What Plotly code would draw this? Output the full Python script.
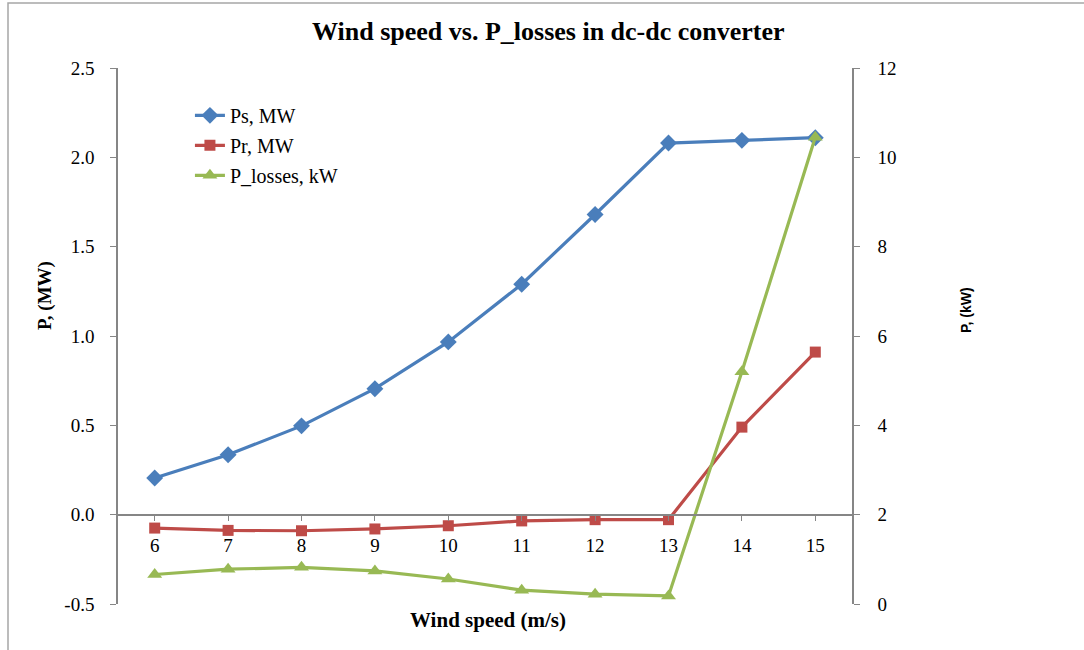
import plotly.graph_objects as go

wind_speed = [6, 7, 8, 9, 10, 11, 12, 13, 14, 15]
ps_mw = [0.205, 0.335, 0.497, 0.705, 0.967, 1.29, 1.68, 2.08, 2.095, 2.11]
pr_mw = [-0.075, -0.088, -0.09, -0.08, -0.062, -0.035, -0.028, -0.028, 0.49, 0.91]
p_losses_kw = [0.66, 0.78, 0.82, 0.74, 0.56, 0.31, 0.22, 0.18, 5.2, 10.45]

left_ticks = [-0.5, 0.0, 0.5, 1.0, 1.5, 2.0, 2.5]
left_tick_text = ["-0.5", "0.0", "0.5", "1.0", "1.5", "2.0", "2.5"]
right_ticks = [0, 2, 4, 6, 8, 10, 12]

SERIF = "Liberation Serif, Times New Roman, serif"
AXIS_COL = "#868686"

fig = go.Figure()
fig.add_trace(go.Scatter(
    x=wind_speed, y=ps_mw, name="Ps, MW", mode="lines+markers",
    line=dict(color="#4A7EBB", width=3.2),
    marker=dict(symbol="diamond", size=13, color="#4A7EBB"),
    legendgroup="a"))
fig.add_trace(go.Scatter(
    x=wind_speed, y=pr_mw, name="Pr, MW", mode="lines+markers",
    line=dict(color="#BE4B48", width=3.2),
    marker=dict(symbol="square", size=11, color="#BE4B48"),
    legendgroup="b"))
fig.add_trace(go.Scatter(
    x=wind_speed, y=p_losses_kw, name="P_losses, kW", mode="lines+markers",
    line=dict(color="#98B954", width=3.2),
    marker=dict(symbol="triangle-up", size=13, color="#98B954"),
    legendgroup="c", yaxis="y2"))

fig.update_layout(
    width=1084, height=650,
    margin=dict(l=118, r=232, t=68, b=46),
    paper_bgcolor="white", plot_bgcolor="white",
    font=dict(family=SERIF, size=19, color="black"),
    showlegend=True,
    legend=dict(x=0.098, y=0.948, xanchor="left", yanchor="top",
                font=dict(family=SERIF, size=20, color="black"),
                bgcolor="rgba(0,0,0,0)", traceorder="grouped",
                tracegroupgap=1, itemwidth=30),
    xaxis=dict(range=[5.5, 15.5], tickvals=wind_speed,
               ticktext=[str(v) for v in wind_speed],
               showgrid=False, zeroline=False,
               showline=True, linecolor=AXIS_COL, linewidth=1.5,
               ticks="outside", ticklen=6, tickcolor=AXIS_COL, tickwidth=1,
               ticklabelstandoff=8,
               anchor="free", position=1/6,
               tickfont=dict(family=SERIF, size=19)),
    yaxis=dict(range=[-0.5, 2.5], tickvals=left_ticks, ticktext=left_tick_text,
               showgrid=False, zeroline=False,
               showline=True, linecolor=AXIS_COL, linewidth=1.5,
               ticks="outside", ticklen=6, tickcolor=AXIS_COL, tickwidth=1,
               ticklabelstandoff=12,
               tickfont=dict(family=SERIF, size=19)),
    yaxis2=dict(range=[0, 12], tickvals=right_ticks, overlaying="y", side="right",
                showgrid=False, zeroline=False,
                showline=True, linecolor=AXIS_COL, linewidth=1.5,
                ticks="outside", ticklen=6, tickcolor=AXIS_COL, tickwidth=1,
                ticklabelstandoff=14,
                tickfont=dict(family=SERIF, size=19)),
    annotations=[
        dict(text="<b>Wind speed vs. P_losses in dc-dc converter</b>",
             xref="paper", yref="paper", x=(548 - 118) / 734, y=(604 - 31) / 536,
             xanchor="center", yanchor="middle", showarrow=False,
             font=dict(family=SERIF, size=26)),
        dict(text="<b>Wind speed (m/s)</b>",
             xref="paper", yref="paper", x=(488 - 118) / 734, y=(604 - 620) / 536,
             xanchor="center", yanchor="middle", showarrow=False,
             font=dict(family=SERIF, size=21)),
        dict(text="<b>P, (MW)</b>", textangle=-90,
             xref="paper", yref="paper", x=(45 - 118) / 734, y=(604 - 296) / 536,
             xanchor="center", yanchor="middle", showarrow=False,
             font=dict(family=SERIF, size=19)),
        dict(text="<b>P, (kW)</b>", textangle=-90,
             xref="paper", yref="paper", x=(966 - 118) / 734, y=(604 - 310) / 536,
             xanchor="center", yanchor="middle", showarrow=False,
             font=dict(family="Liberation Sans, Arial, sans-serif", size=14)),
    ],
    shapes=[
        dict(type="rect", xref="paper", yref="paper",
             x0=(8 - 118) / 734, x1=1.4, y0=-0.3, y1=(604 - 3) / 536,
             line=dict(color="#A6A6A6", width=1.5), fillcolor="rgba(0,0,0,0)",
             layer="below"),
    ],
)

fig.write_html("out.html", config={"displayModeBar": False},
               post_script="document.body.style.margin='0';")
